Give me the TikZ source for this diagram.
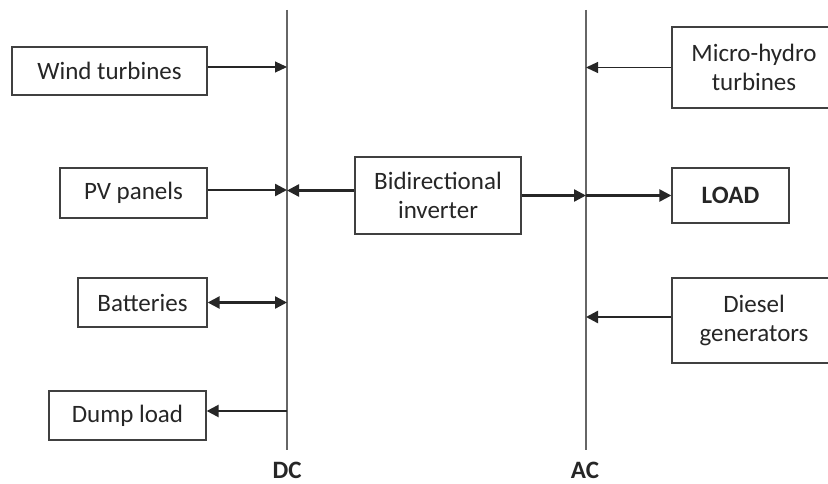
\documentclass[tikz,border=0pt]{standalone}
\usepackage{fontspec}
\setmainfont{Carlito}
\usetikzlibrary{arrows.meta}
\begin{document}
\begin{tikzpicture}[x=1pt,y=-1pt,
  box/.style={draw=black!75, line width=1.3pt, text=black!85, font=\fontsize{25}{29}\selectfont, align=center, inner sep=0pt},
  bus/.style={draw=black!60, line width=1.6pt},
  lightarrow/.style={draw=black!85, line width=1.1pt, -{Triangle[length=12pt,width=11pt]}},
  heavyarrow/.style={draw=black!85, line width=2.4pt, -{Triangle[length=12pt,width=12pt]}},
  heavyboth/.style={draw=black!85, line width=2.4pt, {Triangle[length=12pt,width=12pt]}-{Triangle[length=12pt,width=12pt]}},
  buslabel/.style={font=\fontsize{25}{29}\selectfont\bfseries, text=black!85}]
\useasboundingbox (0,0) rectangle (828,484);
\clip (0,0) rectangle (828,484);
\fill[white] (0,0) rectangle (828,484);
% buses
\coordinate (dctop) at (287,10);
\coordinate (dcbot) at (287,450);
\coordinate (actop) at (586,10);
\coordinate (acbot) at (586,450);
\draw[bus] (dctop) -- (dcbot);
\draw[bus] (actop) -- (acbot);
\node[buslabel] (dc) at (287,470) {DC};
\node[buslabel] (ac) at (585,470) {AC};
% boxes
\node[box, minimum width=195, minimum height=48] (wind) at (109.5,71) {Wind turbines};
\node[box, minimum width=147, minimum height=50] (pv) at (133.5,193) {PV panels};
\node[box, minimum width=129, minimum height=49] (bat) at (142.5,302.5) {Batteries};
\node[box, minimum width=157, minimum height=49] (dump) at (127.5,415.5) {Dump load};
\node[box, minimum width=166, minimum height=77] (inv) at (438,195.5) {Bidirectional\\inverter};
\node[box, minimum width=164, minimum height=81] (micro) at (754,67.5) {Micro-hydro\\turbines};
\node[box, minimum width=117, minimum height=55, font=\fontsize{25}{29}\selectfont\bfseries] (load) at (730.5,195.5) {LOAD};
\node[box, minimum width=164, minimum height=85] (diesel) at (754,320.5) {Diesel\\generators};
% connectors
\draw[lightarrow] ([yshift=4pt]wind.east) -- ([yshift=4pt]wind.east -| dctop);
\draw[heavyarrow] ([yshift=3pt]pv.east) -- ([yshift=3pt]pv.east -| dctop);
\draw[heavyarrow] ([yshift=5pt]inv.west) -- ([yshift=5pt]inv.west -| dctop);
\draw[heavyboth] (bat.east) -- (bat.east -| dctop);
\draw[heavyarrow] ([yshift=4.5pt]dump.east -| dctop) -- ([yshift=4.5pt]dump.east);
\draw[heavyarrow] (inv.east) -- (inv.east -| actop);
\draw[heavyarrow] (inv.east -| actop) -- (load.west);
\draw[lightarrow] (micro.west) -- (micro.west -| actop);
\draw[heavyarrow] ([yshift=3.5pt]diesel.west) -- ([yshift=3.5pt]diesel.west -| actop);
\end{tikzpicture}
\end{document}
